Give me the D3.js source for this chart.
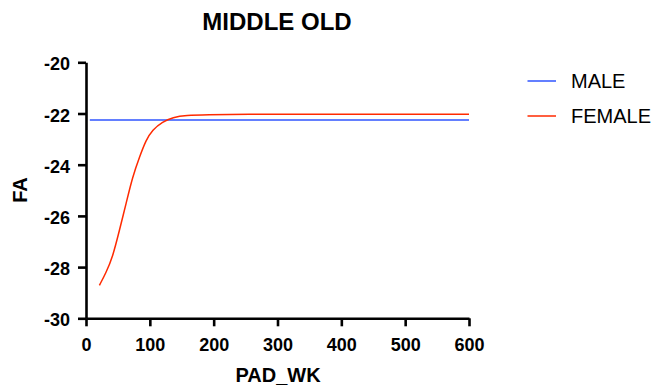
<!DOCTYPE html>
<html>
<head>
<meta charset="utf-8">
<script src="https://cdn.jsdelivr.net/npm/d3@7"></script>
<style>
  body { margin: 0; background: #fff; }
  svg { font-family: "Liberation Sans", Arial, sans-serif; }
</style>
</head>
<body>
<div id="chart"></div>
<script>
// data
const xTicks = [0, 100, 200, 300, 400, 500, 600];
const yTicks = [-30, -28, -26, -24, -22, -20];
const seriesNames = ['MALE', 'FEMALE'];
const seriesColors = ['#2f55ff', '#ff2a00'];

const maleX = [6, 600];
const maleY = [-22.25, -22.25];

const femaleX = [21, 31, 42, 52, 63, 73, 84, 94, 104, 120, 136, 157, 188, 250, 350, 450, 600];
const femaleY = [-28.71, -28.24, -27.59, -26.6, -25.5, -24.47, -23.69, -23.04, -22.64, -22.32,
                 -22.15, -22.07, -22.05, -22.03, -22.03, -22.03, -22.03];

const width = 653, height = 387;

const svg = d3.select('#chart')
    .append('svg')
    .attr('width', width)
    .attr('height', height);

const x = d3.scaleLinear().domain([0, 600]).range([86, 469]);
const y = d3.scaleLinear().domain([-30, -20]).range([318.3, 62.3]);

// Axes
const xAxis = svg.append('g')
    .attr('transform', `translate(0,${y(-30)})`)
    .call(d3.axisBottom(x).tickValues(xTicks).tickSize(8).tickSizeOuter(0).tickPadding(12));

const yAxis = svg.append('g')
    .attr('transform', `translate(${x(0)},0)`)
    .call(d3.axisLeft(y).tickValues(yTicks).tickSize(8).tickSizeOuter(0).tickPadding(8));

[xAxis, yAxis].forEach(g => {
    g.select('.domain').attr('stroke', '#000').attr('stroke-width', 2.6);
    g.selectAll('.tick line').attr('stroke', '#000').attr('stroke-width', 2.6);
    g.selectAll('.tick text')
        .attr('fill', '#000')
        .style('font-family', '"Liberation Sans", Arial, sans-serif')
        .style('font-size', '18px')
        .style('font-weight', 'bold');
});
// plain hyphen instead of unicode minus
yAxis.selectAll('.tick text').text(d => String(d)).attr('dy', '0.42em');

// Lines
const line = d3.line()
    .x(d => x(d[0]))
    .y(d => y(d[1]))
    .curve(d3.curveBasis);

const series = [
    d3.zip(maleX, maleY),
    d3.zip(femaleX, femaleY)
];

svg.append('g').selectAll('path')
    .data(series)
    .join('path')
    .attr('d', line)
    .attr('fill', 'none')
    .attr('stroke', (d, i) => seriesColors[i])
    .attr('stroke-width', 1.5);

// Title and axis labels
svg.append('text')
    .attr('x', 277).attr('y', 30)
    .attr('text-anchor', 'middle')
    .style('font-size', '24px').style('font-weight', 'bold')
    .text('MIDDLE OLD');

svg.append('text')
    .attr('x', 278).attr('y', 381.5)
    .attr('text-anchor', 'middle')
    .style('font-size', '20px').style('font-weight', 'bold')
    .text('PAD_WK');

svg.append('text')
    .attr('transform', 'translate(26.5,190) rotate(-90)')
    .attr('text-anchor', 'middle')
    .style('font-size', '20px').style('font-weight', 'bold')
    .text('FA');

// Legend
const legend = svg.append('g');
seriesNames.forEach((name, i) => {
    const ly = 81 + i * 35;
    legend.append('line')
        .attr('x1', 527.5).attr('x2', 556)
        .attr('y1', ly).attr('y2', ly)
        .attr('stroke', seriesColors[i])
        .attr('stroke-width', 1.5);
    legend.append('text')
        .attr('x', 571).attr('y', ly + 7.3)
        .style('font-size', '20px')
        .text(name);
});
</script>
</body>
</html>
